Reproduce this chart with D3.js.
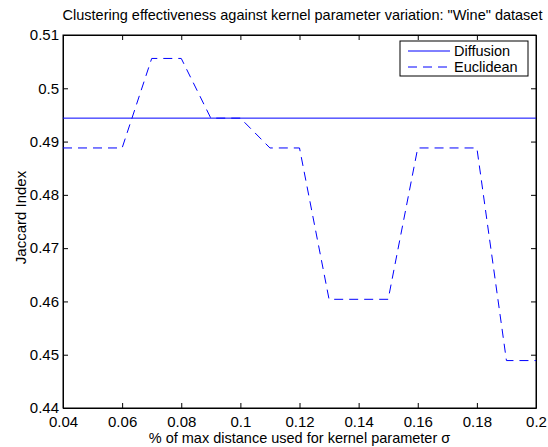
<!DOCTYPE html>
<html>
<head>
<meta charset="utf-8">
<script src="https://cdn.jsdelivr.net/npm/d3@7"></script>
<style>
body { margin: 0; background: #fff; }
text { font-family: "Liberation Sans", Arial, sans-serif; }
</style>
</head>
<body>
<div id="chart"></div>
<script>
// data
var sigma = [0.04, 0.05, 0.06, 0.07, 0.08, 0.09, 0.10, 0.11, 0.12, 0.13, 0.14, 0.15, 0.16, 0.17, 0.18, 0.19, 0.20];
var euclidean = [0.4888, 0.4888, 0.4888, 0.5056, 0.5056, 0.4944, 0.4944, 0.4888, 0.4888, 0.4604, 0.4604, 0.4604, 0.4888, 0.4888, 0.4888, 0.4489, 0.4489];
var diffusion = 0.4944;
var xTicks = [0.04, 0.06, 0.08, 0.1, 0.12, 0.14, 0.16, 0.18, 0.2];
var yTicks = [0.44, 0.45, 0.46, 0.47, 0.48, 0.49, 0.5, 0.51];
var seriesNames = ["Diffusion", "Euclidean"];

var margin = {top: 35, right: 12, bottom: 39, left: 63},
  width = 548 - margin.left - margin.right,
  height = 447 - margin.top - margin.bottom;

var svg = d3.select("#chart")
  .append("svg")
  .attr("width", 548)
  .attr("height", 447)
  .append("g")
  .attr("transform", "translate(" + margin.left + "," + margin.top + ")");

var x = d3.scaleLinear().domain([0.04, 0.2]).range([0, width]);
var y = d3.scaleLinear().domain([0.44, 0.51]).range([height, 0]);

var fmt = function(d) { return String(+d.toFixed(2)); };

// axes, ticks pointing inward like matlab
svg.append("g")
  .attr("transform", "translate(0," + height + ")")
  .call(d3.axisBottom(x).tickValues(xTicks).tickFormat(fmt).tickSizeInner(-5).tickSizeOuter(0).tickPadding(8))
  .call(function(g) { g.selectAll("text").style("font-size", "15px").attr("fill", "#000"); });

svg.append("g")
  .call(d3.axisTop(x).tickValues(xTicks).tickFormat("").tickSizeInner(-5).tickSizeOuter(0));

svg.append("g")
  .call(d3.axisLeft(y).tickValues(yTicks).tickFormat(fmt).tickSizeInner(-5).tickSizeOuter(0).tickPadding(4))
  .call(function(g) { g.selectAll("text").style("font-size", "15px").attr("fill", "#000"); });

svg.append("g")
  .attr("transform", "translate(" + width + ",0)")
  .call(d3.axisRight(y).tickValues(yTicks).tickFormat("").tickSizeInner(-5).tickSizeOuter(0));

svg.selectAll(".domain").attr("stroke", "#000");
svg.selectAll(".tick line").attr("stroke", "#000");

svg.append("rect")
  .attr("width", width)
  .attr("height", height)
  .attr("fill", "none")
  .attr("stroke", "#000");

// lines
svg.append("line")
  .attr("x1", x(0.04))
  .attr("x2", x(0.2))
  .attr("y1", y(diffusion))
  .attr("y2", y(diffusion))
  .attr("stroke", "#0000ff")
  .attr("stroke-width", 1);

svg.append("path")
  .datum(sigma)
  .attr("fill", "none")
  .attr("stroke", "#0000ff")
  .attr("stroke-width", 1)
  .attr("stroke-dasharray", "9,6")
  .attr("d", d3.line()
    .x(function(d) { return x(d); })
    .y(function(d, i) { return y(euclidean[i]); }));

// title and labels
svg.append("text")
  .attr("x", width / 2 + 3)
  .attr("y", -15)
  .attr("text-anchor", "middle")
  .style("font-size", "14.5px")
  .text("Clustering effectiveness against kernel parameter variation: \"Wine\" dataset");

svg.append("text")
  .attr("x", width / 2)
  .attr("y", height + 35)
  .attr("text-anchor", "middle")
  .style("font-size", "14.5px")
  .text("% of max distance used for kernel parameter \u03C3");

svg.append("text")
  .attr("transform", "rotate(-90)")
  .attr("x", -height / 2 + 4)
  .attr("y", -37)
  .attr("text-anchor", "middle")
  .style("font-size", "15px")
  .text("Jaccard Index");

// legend
var legend = svg.append("g").attr("transform", "translate(" + (width - 136) + ",6)");
legend.append("rect")
  .attr("width", 128)
  .attr("height", 35)
  .attr("fill", "#fff")
  .attr("stroke", "#000");
seriesNames.forEach(function(name, i) {
  legend.append("line")
    .attr("x1", 8).attr("x2", 50)
    .attr("y1", 10 + i * 16).attr("y2", 10 + i * 16)
    .attr("stroke", "#0000ff")
    .attr("stroke-dasharray", i === 1 ? "9,6" : null);
  legend.append("text")
    .attr("x", 54)
    .attr("y", 15 + i * 16)
    .style("font-size", "14.5px")
    .text(name);
});
</script>
</body>
</html>
